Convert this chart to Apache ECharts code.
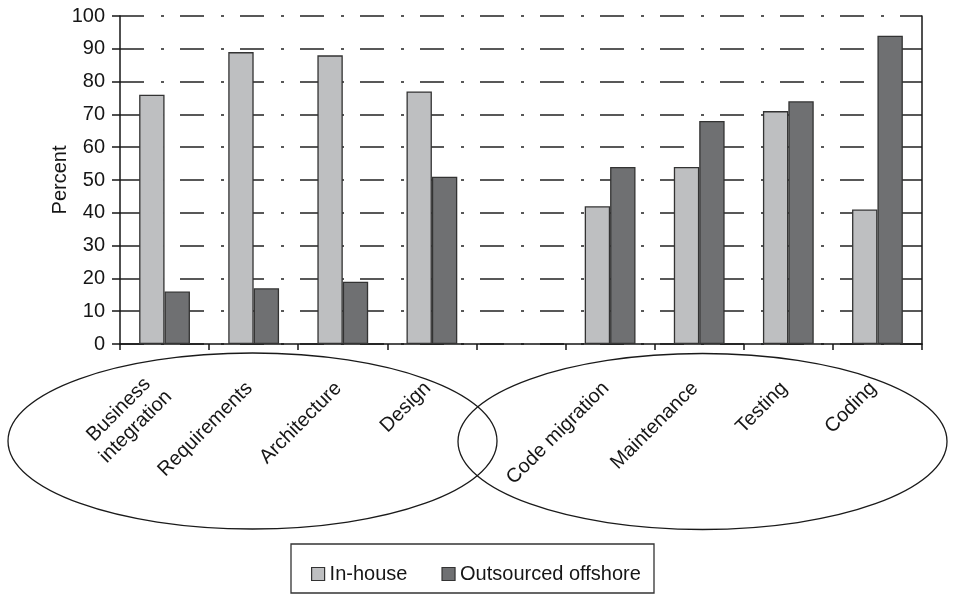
<!DOCTYPE html>
<html>
<head>
<meta charset="utf-8">
<script src="https://cdn.jsdelivr.net/npm/echarts@6/dist/echarts.min.js"></script>
<style>
  html, body { margin: 0; padding: 0; background: #fff; }
  #chart { width: 953px; height: 594px; }
</style>
</head>
<body>
<div id="chart"></div>
<script>
// Activities (the blank slot separates the two groups)
const categories = [
  'Business\nintegration', 'Requirements', 'Architecture', 'Design', '',
  'Code migration', 'Maintenance', 'Testing', 'Coding'
];
// Percent of respondents doing each activity
const inHouse    = [76, 89, 88, 77, null, 42, 54, 71, 41];
const outsourced = [16, 17, 19, 51, null, 54, 68, 74, 94];
const seriesNames = ['In-house', 'Outsourced offshore'];
const yTicks = { min: 0, max: 100, step: 10 };

const FONT = '"Liberation Sans", Arial, sans-serif';
const INK = '#161616';

const chart = echarts.init(document.getElementById('chart'), null, { renderer: 'canvas' });

chart.setOption({
  animation: false,
  backgroundColor: '#fff',
  textStyle: { fontFamily: FONT, color: INK },
  grid: { left: 120, right: 31, top: 16, bottom: 250 },
  xAxis: {
    type: 'category',
    data: categories,
    boundaryGap: true,
    axisLine: { show: true, lineStyle: { color: INK, width: 1.5 } },
    axisTick: { show: true, length: 6, inside: false, alignWithLabel: false,
                lineStyle: { color: INK, width: 1.5 } },
    axisLabel: {
      rotate: 45, interval: 0, margin: 37,
      padding: [0, 6, 0, 0],
      fontFamily: FONT, fontSize: 20, color: INK, lineHeight: 24,
      // each line centred within its label block
      formatter: function (v) {
        return v.split('\n').map(function (s) { return '{c|' + s + '}'; }).join('\n');
      },
      rich: {
        c: { align: 'center', fontFamily: FONT, fontSize: 20, color: INK, lineHeight: 24 }
      }
    },
    splitLine: { show: false }
  },
  yAxis: [{
    type: 'value',
    min: yTicks.min, max: yTicks.max, interval: yTicks.step,
    name: 'Percent',
    nameLocation: 'middle',
    nameRotate: 90,
    nameGap: 50,
    nameMoveOverlap: false,
    nameTextStyle: { fontFamily: FONT, fontSize: 20, color: INK },
    axisLine: { show: true, lineStyle: { color: INK, width: 1.5 } },
    axisTick: { show: true, length: 8, inside: false, lineStyle: { color: INK, width: 1.5 } },
    axisLabel: { margin: 15, fontFamily: FONT, fontSize: 20, color: INK },
    splitLine: {
      show: true,
      lineStyle: { color: '#222', width: 1.6, type: [24, 17, 3, 16], dashOffset: 0 }
    }
  }, {
    // closes the plot area on the right
    type: 'value', position: 'right',
    min: yTicks.min, max: yTicks.max, interval: yTicks.step,
    axisLine: { show: true, lineStyle: { color: INK, width: 1.5 } },
    axisTick: { show: false }, axisLabel: { show: false }, splitLine: { show: false }
  }],
  legend: {
    data: seriesNames,
    left: 306, top: 559,
    icon: 'rect', itemWidth: 13, itemHeight: 13, itemGap: 34,
    itemStyle: { borderColor: '#333', borderWidth: 1.2 },
    textStyle: { fontFamily: FONT, fontSize: 20, color: INK }
  },
  series: [{
    name: seriesNames[0], type: 'bar', data: inHouse,
    barGap: '0%', barCategoryGap: '43%',
    itemStyle: { color: '#bebfc1', borderColor: '#333', borderWidth: 1.3 }
  }, {
    name: seriesNames[1], type: 'bar', data: outsourced,
    itemStyle: { color: '#6f7072', borderColor: '#333', borderWidth: 1.3 }
  }],
  graphic: [
    // group outlines around the activity labels
    { type: 'ellipse', z: 5, silent: true,
      shape: { cx: 252.5, cy: 441, rx: 244.5, ry: 88 },
      style: { fill: null, stroke: '#1a1a1a', lineWidth: 1.3 } },
    { type: 'ellipse', z: 5, silent: true,
      shape: { cx: 702.5, cy: 441.5, rx: 244.5, ry: 88 },
      style: { fill: null, stroke: '#1a1a1a', lineWidth: 1.3 } },
    // legend frame
    { type: 'rect', z: 5, silent: true,
      shape: { x: 291, y: 544, width: 363, height: 49 },
      style: { fill: null, stroke: '#333', lineWidth: 1.3 } }
  ]
});
</script>
</body>
</html>
